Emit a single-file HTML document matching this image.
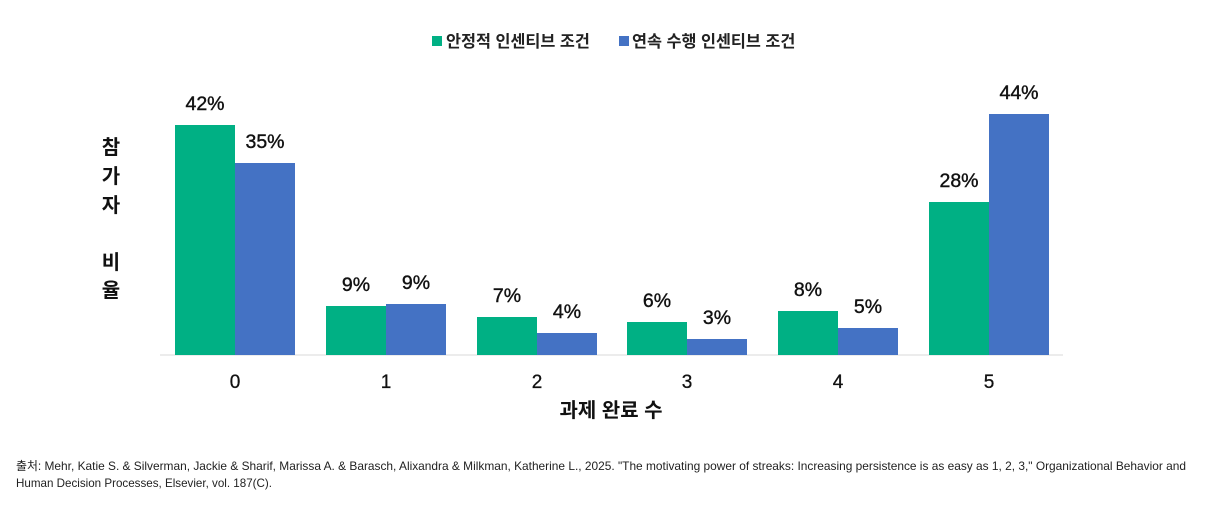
<!DOCTYPE html>
<html><head><meta charset="utf-8"><style>
html,body{margin:0;padding:0;background:#fff;}
svg{display:block;}
text{font-family:"Liberation Sans","Noto Sans CJK KR",sans-serif;}
</style></head><body>
<svg width="1224" height="512" xmlns="http://www.w3.org/2000/svg">
<rect x="432" y="36" width="10" height="10" fill="#00B084"/>
<text x="446" y="47" font-size="16.3" font-weight="bold" fill="#222">안정적 인센티브 조건</text>
<rect x="619" y="36" width="10" height="10" fill="#4472C4"/>
<text x="632" y="47" font-size="16.3" font-weight="bold" fill="#222">연속 수행 인센티브 조건</text>

<g font-size="20" font-weight="bold" fill="#111" text-anchor="middle">
<text x="111" y="154">참</text><text x="111" y="183">가</text><text x="111" y="212">자</text>
<text x="111" y="269">비</text><text x="111" y="297">율</text>
</g>

<line x1="160" y1="355" x2="1063" y2="355" stroke="#d9d9d9" stroke-width="1"/>
<g fill="#00B084">
<rect x="175" y="125" width="60" height="230"/>
<rect x="326" y="306" width="60" height="49"/>
<rect x="477" y="317" width="60" height="38"/>
<rect x="627" y="322" width="60" height="33"/>
<rect x="778" y="311" width="60" height="44"/>
<rect x="929" y="202" width="60" height="153"/>
</g>
<g fill="#4472C4">
<rect x="235" y="163" width="60" height="192"/>
<rect x="386" y="304" width="60" height="51"/>
<rect x="537" y="333" width="60" height="22"/>
<rect x="687" y="339" width="60" height="16"/>
<rect x="838" y="328" width="60" height="27"/>
<rect x="989" y="114" width="60" height="241"/>
</g>
<g font-size="19.5" fill="#111" text-anchor="middle" stroke="#111" stroke-width="0.4">
<text x="205" y="110">42%</text><text x="265" y="148">35%</text>
<text x="356" y="291">9%</text><text x="416" y="289">9%</text>
<text x="507" y="302">7%</text><text x="567" y="318">4%</text>
<text x="657" y="307">6%</text><text x="717" y="324">3%</text>
<text x="808" y="296">8%</text><text x="868" y="313">5%</text>
<text x="959" y="187">28%</text><text x="1019" y="99">44%</text>
</g>
<g font-size="19" fill="#111" text-anchor="middle" stroke="#111" stroke-width="0.3">
<text x="235" y="388">0</text><text x="386" y="388">1</text><text x="537" y="388">2</text>
<text x="687" y="388">3</text><text x="838" y="388">4</text><text x="989" y="388">5</text>
</g>
<text x="611" y="417" font-size="20" font-weight="bold" fill="#111" text-anchor="middle">과제 완료 수</text>
<text x="16" y="470" font-size="12" fill="#222" textLength="1170" lengthAdjust="spacingAndGlyphs">출처: Mehr, Katie S. &amp; Silverman, Jackie &amp; Sharif, Marissa A. &amp; Barasch, Alixandra &amp; Milkman, Katherine L., 2025. "The motivating power of streaks: Increasing persistence is as easy as 1, 2, 3," Organizational Behavior and</text>
<text x="16" y="487" font-size="12" fill="#222" textLength="256" lengthAdjust="spacingAndGlyphs">Human Decision Processes, Elsevier, vol. 187(C).</text>
</svg>
</body></html>
